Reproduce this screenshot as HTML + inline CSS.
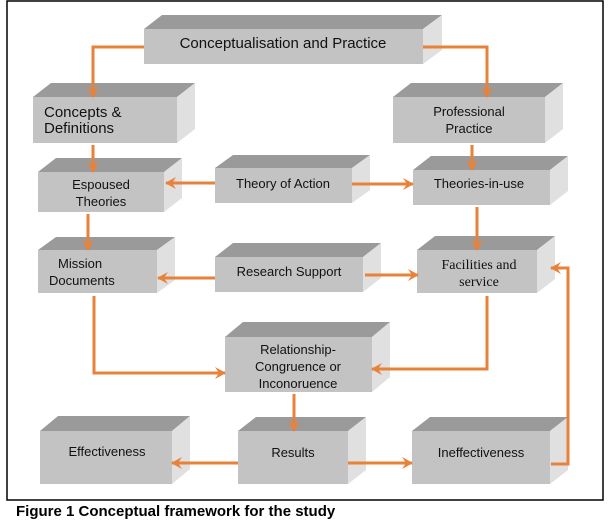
<!DOCTYPE html>
<html><head><meta charset="utf-8"><style>
body{margin:0;background:#fff;width:610px;height:526px;overflow:hidden}
svg text{font-family:"Liberation Sans",sans-serif;font-size:13px;fill:#111}
.t{fill:#9a9a9a}.f{fill:#c3c3c3}.s{fill:#e0e0e0}
.a{stroke:#e8823a;stroke-width:3;fill:none}
</style></head><body>
<svg width="610" height="526" viewBox="0 0 610 526">
<defs><marker id="m" markerWidth="14" markerHeight="14" refX="10" refY="7" orient="auto" markerUnits="userSpaceOnUse"><path d="M0,1 L11,7 L0,13 L4,7 z" fill="#e8823a"/></marker></defs>
<rect x="7" y="1" width="596" height="499" fill="none" stroke="#000" stroke-width="1.5"/>
<g>
<polygon class="t" points="144,29 162,15 442,15 423,29"/><polygon class="s" points="423,29 442,15 442,50 423,64"/><rect class="f" x="144" y="29" width="279" height="35"/>
<text x="283" y="48" text-anchor="middle" style="font-size:15px">Conceptualisation and Practice</text>

<polygon class="t" points="33,97 51,83 195,83 177,97"/><polygon class="s" points="177,97 195,83 195,129 177,143"/><rect class="f" x="33" y="97" width="144" height="46"/>
<text x="44" y="117" style="font-size:15px">Concepts &amp;</text><text x="44" y="133" style="font-size:15px">Definitions</text>

<polygon class="t" points="393,97 411,83 563,83 545,97"/><polygon class="s" points="545,97 563,83 563,129 545,143"/><rect class="f" x="393" y="97" width="152" height="46"/>
<text x="469" y="116" text-anchor="middle">Professional</text><text x="469" y="133" text-anchor="middle">Practice</text>

<polygon class="t" points="38,172 56,158 182,158 164,172"/><polygon class="s" points="164,172 182,158 182,198 164,212"/><rect class="f" x="38" y="172" width="126" height="40"/>
<text x="101" y="189" text-anchor="middle">Espoused</text><text x="101" y="206" text-anchor="middle">Theories</text>

<polygon class="t" points="215,168 233,155 370,155 352,168"/><polygon class="s" points="352,168 370,155 370,190 352,203"/><rect class="f" x="215" y="168" width="137" height="35"/>
<text x="283" y="188" text-anchor="middle">Theory of Action</text>

<polygon class="t" points="413,170 431,156 568,156 550,170"/><polygon class="s" points="550,170 568,156 568,191 550,205"/><rect class="f" x="413" y="170" width="137" height="35"/>
<text x="479" y="188" text-anchor="middle">Theories-in-use</text>

<polygon class="t" points="38,250 56,237 175,237 157,250"/><polygon class="s" points="157,250 175,237 175,280 157,293"/><rect class="f" x="38" y="250" width="119" height="43"/>
<text x="58" y="268">Mission</text><text x="49" y="285">Documents</text>

<polygon class="t" points="215,257 233,243 381,243 363,257"/><polygon class="s" points="363,257 381,243 381,278 363,292"/><rect class="f" x="215" y="257" width="148" height="35"/>
<text x="289" y="276" text-anchor="middle">Research Support</text>

<polygon class="t" points="417,250 435,236 555,236 537,250"/><polygon class="s" points="537,250 555,236 555,279 537,293"/><rect class="f" x="417" y="250" width="120" height="43"/>
<text x="479" y="269" text-anchor="middle" style="font-family:'Liberation Serif',serif;font-size:14px">Facilities and</text><text x="479" y="286" text-anchor="middle" style="font-family:'Liberation Serif',serif;font-size:14px">service</text>

<polygon class="t" points="225,337 243,322 390,322 372,337"/><polygon class="s" points="372,337 390,322 390,377 372,392"/><rect class="f" x="225" y="337" width="147" height="55"/>
<text x="298" y="354" text-anchor="middle">Relationship-</text><text x="298" y="371" text-anchor="middle">Congruence or</text><text x="298" y="388" text-anchor="middle">Inconoruence</text>

<polygon class="t" points="40,431 58,416 190,416 172,431"/><polygon class="s" points="172,431 190,416 190,469 172,484"/><rect class="f" x="40" y="431" width="132" height="53"/>
<text x="107" y="456" text-anchor="middle">Effectiveness</text>

<polygon class="t" points="238,431 256,417 366,417 348,431"/><polygon class="s" points="348,431 366,417 366,470 348,484"/><rect class="f" x="238" y="431" width="110" height="53"/>
<text x="293" y="457" text-anchor="middle">Results</text>

<polygon class="t" points="412,431 430,417 568,417 550,431"/><polygon class="s" points="550,431 568,417 568,470 550,484"/><rect class="f" x="412" y="431" width="138" height="53"/>
<text x="481" y="457" text-anchor="middle">Ineffectiveness</text>
</g>
<g class="a">
<polyline points="144,47 93,47 93,97" marker-end="url(#m)"/>
<polyline points="423,47 487,47 487,97" marker-end="url(#m)"/>
<line x1="93" y1="145" x2="93" y2="172" marker-end="url(#m)"/>
<line x1="472" y1="145" x2="472" y2="170" marker-end="url(#m)"/>
<line x1="215" y1="183" x2="166" y2="183" marker-end="url(#m)"/>
<line x1="352" y1="184" x2="413" y2="184" marker-end="url(#m)"/>
<line x1="88" y1="214" x2="88" y2="250" marker-end="url(#m)"/>
<line x1="477" y1="207" x2="477" y2="250" marker-end="url(#m)"/>
<line x1="215" y1="278" x2="158" y2="278" marker-end="url(#m)"/>
<line x1="365" y1="275" x2="418" y2="275" marker-end="url(#m)"/>
<polyline points="94,296 94,373 225,373" marker-end="url(#m)"/>
<polyline points="487,296 487,369 372,369" marker-end="url(#m)"/>
<line x1="294" y1="394" x2="294" y2="431" marker-end="url(#m)"/>
<line x1="238" y1="463" x2="172" y2="463" marker-end="url(#m)"/>
<line x1="348" y1="463" x2="412" y2="463" marker-end="url(#m)"/>
<polyline points="551,464 568,464 568,268 551,268" marker-end="url(#m)"/>
</g>
<text x="16" y="516" style="font-size:15px;font-weight:bold;fill:#000">Figure 1 Conceptual framework for the study</text>
</svg>
</body></html>
